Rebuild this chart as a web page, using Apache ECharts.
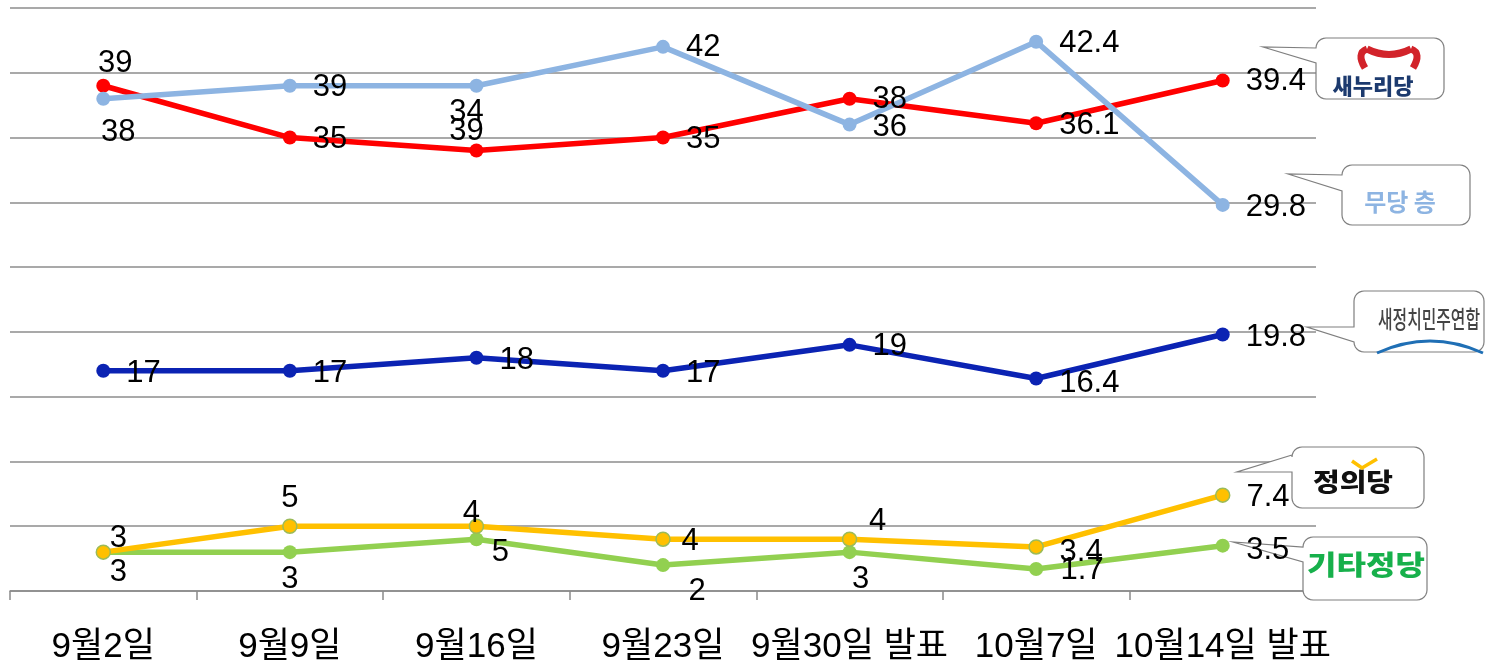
<!DOCTYPE html>
<html>
<head>
<meta charset="utf-8">
<script src="https://cdn.jsdelivr.net/npm/echarts@6/dist/echarts.min.js"></script>
<style>
html,body{margin:0;padding:0;background:#fff;}
#c{width:1492px;height:665px;}
</style>
</head>
<body>
<div id="c"></div>
<script>
const categories = ['9월2일','9월9일','9월16일','9월23일','9월30일 발표','10월7일','10월14일 발표'];
const saenuri   = [39, 35, 34, 35, 38, 36.1, 39.4];
const mudang    = [38, 39, 39, 42, 36, 42.4, 29.8];
const saejeong  = [17, 17, 18, 17, 19, 16.4, 19.8];
const jeongui   = [3, 5, 5, 4, 4, 3.4, 7.4];
const gita      = [3, 3, 4, 2, 3, 1.7, 3.5];

// label placements (layout only): ['r', dy] = right of point, ['c', dx, dy] = centred at offset
const placeSaenuri  = [['c',12,-22],['r',2],['c',-10,-38],['r',2],['r',1],['r',2],['r',1]];
const placeMudang   = [['c',15,34],['r',2],['c',-10,46],['r',1],['r',3],['r',2],['r',3]];
const placeSaejeong = [['r',3],['r',3],['r',3],['r',3],['r',2],['r',5],['r',3]];
const placeJeongui  = [['c',15,-14],['c',0,-28],['c',24,26],['c',27,2],['c',28,-18],['c',45,6],['r',2]];
const placeGita     = [['c',15,20],['c',0,27],['c',-5,-26],['c',34,26],['c',11,27],['c',46,1],['c',45,5]];

const FONT = '"Liberation Sans", Arial, "Noto Sans CJK KR", sans-serif';

function build(values, places){
  return values.map((v,i)=>{
    const p = places[i];
    let label;
    if (p[0]==='r') label = {position:'right', distance:16, offset:[0,p[1]]};
    else label = {position:'inside', offset:[p[1],p[2]]};
    return {value:v, label:label};
  });
}

function mkSeries(name, values, places, color, borderColor){
  return {
    name:name, type:'line', data:build(values, places),
    symbol:'circle', symbolSize:14,
    lineStyle:{color:color, width:5.5},
    itemStyle:{color:color, borderColor:borderColor||color, borderWidth:borderColor?1.5:0},
    label:{show:true, color:'#000', fontSize:31, fontFamily:FONT},
    emphasis:{disabled:true},
    animation:false
  };
}

function arcPts(cx,cy,r,a0,a1){
  const pts=[]; const n=6;
  for(let i=0;i<=n;i++){const a=a0+(a1-a0)*i/n; pts.push([cx+r*Math.cos(a), cy+r*Math.sin(a)]);}
  return pts;
}
function callout(x1,y1,x2,y2,r,tx,ty,yA,yB){
  const P=Math.PI;
  let pts=[];
  pts=pts.concat(arcPts(x2-r,y1+r,r,-P/2,0));
  pts=pts.concat(arcPts(x2-r,y2-r,r,0,P/2));
  pts=pts.concat(arcPts(x1+r,y2-r,r,P/2,P));
  pts.push([x1,yB]); pts.push([tx,ty]); pts.push([x1,yA]);
  pts=pts.concat(arcPts(x1+r,y1+r,r,P,1.5*P));
  return {type:'polygon', shape:{points:pts}, style:{fill:'#fff', stroke:'#7f7f7f', lineWidth:1.2}, z:1};
}
function quad(x1,y1,cx,cy,x2,y2,color,w){
  return {type:'bezierCurve', shape:{x1:x1,y1:y1,x2:x2,y2:y2,cpx1:cx,cpy1:cy}, style:{fill:null, stroke:color, lineWidth:w}, z:11};
}

const chart = echarts.init(document.getElementById('c'), null, {renderer:'canvas'});
chart.setOption({
  backgroundColor:'#fff',
  animation:false,
  grid:{left:10, right:176, top:8, bottom:73, containLabel:false},
  xAxis:{
    type:'category', data:categories, boundaryGap:true,
    axisLine:{show:true, lineStyle:{color:'#8a8a8a', width:1.5}},
    axisTick:{show:true, length:9, lineStyle:{color:'#8a8a8a', width:1.5}},
    axisLabel:{interval:0, color:'#000', fontSize:35, fontFamily:FONT, margin:39}
  },
  yAxis:{
    type:'value', min:0, max:45, interval:5,
    axisLine:{show:false}, axisTick:{show:false}, axisLabel:{show:false},
    splitLine:{show:true, lineStyle:{color:'#8c8c8c', width:1.5}}
  },
  series:[
    mkSeries('새정치민주연합', saejeong, placeSaejeong, '#0B23B3'),
    mkSeries('새누리당', saenuri, placeSaenuri, '#FF0000'),
    mkSeries('무당층', mudang, placeMudang, '#8DB4E2'),
    mkSeries('기타정당', gita, placeGita, '#92D050'),
    mkSeries('정의당', jeongui, placeJeongui, '#FFC000', '#9BBB59')
  ],
  graphic:[
    callout(1316,38,1444,99,10,1263,47,48,63),
    quad(1365,68,1356,53,1367,49,'#D2232A',7),
    quad(1367,49,1389,60,1411,49,'#D2232A',7),
    quad(1411,49,1422,53,1413,68,'#D2232A',7),
    {type:'text', x:1373, y:86, style:{text:'새누리당', fill:'#1C3A6E', font:'900 22px "Noto Sans CJK KR"', align:'center', verticalAlign:'middle'}, z:11},

    callout(1342,165,1470,225,10,1288,174,175,191),
    {type:'text', x:1400, y:202, style:{text:'무당 층', fill:'#8DB4E2', font:'bold 24px "Noto Sans CJK KR"', align:'center', verticalAlign:'middle'}, z:11},

    callout(1354,291,1484,352,10,1307,327,327,342),
    {type:'text', x:1429, y:319, scaleX:0.66, style:{text:'새정치민주연합', fill:'#444', font:'500 24px "Noto Sans CJK KR"', align:'center', verticalAlign:'middle'}, z:11},
    quad(1377,353,1430,329,1483,353,'#1F6FB5',3),

    callout(1292,447,1424,508,10,1237,472,455,472),
    {type:'text', x:1353, y:482, scaleY:0.85, style:{text:'정의당', fill:'#111', font:'900 29px "Noto Sans CJK KR"', align:'center', verticalAlign:'middle'}, z:11},
    {type:'polyline', shape:{points:[[1352,461],[1362,468],[1377,459]]}, style:{fill:null, stroke:'#FFC000', lineWidth:3.5}, z:11},

    callout(1303,537,1427,600,10,1233,542,547,562),
    {type:'text', x:1366, y:565, scaleY:0.85, style:{text:'기타정당', fill:'#17B04B', font:'900 32px "Noto Sans CJK KR"', align:'center', verticalAlign:'middle'}, z:11}
  ]
});
</script>
</body>
</html>
